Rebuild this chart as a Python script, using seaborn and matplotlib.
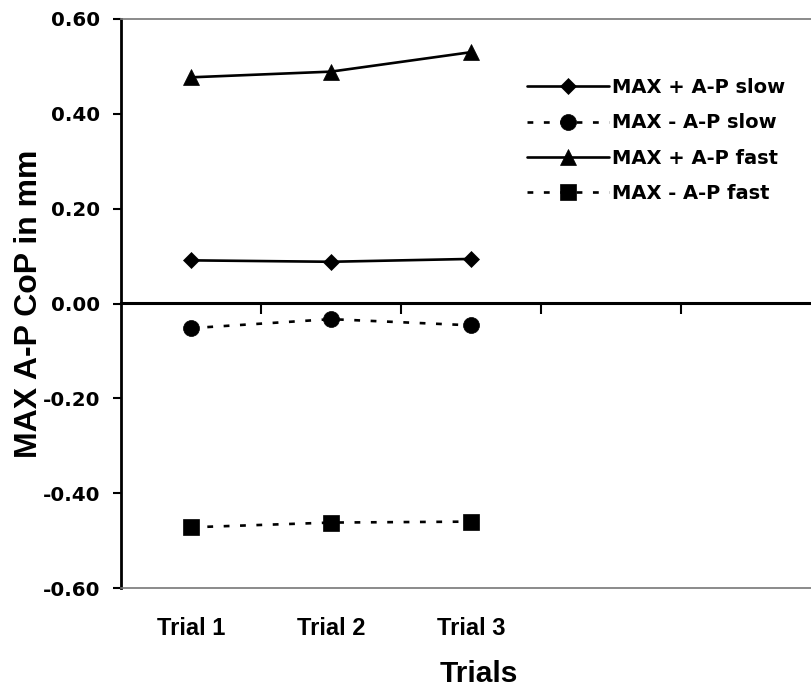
import numpy as np
import pandas as pd
import matplotlib
matplotlib.use("Agg")
import matplotlib.pyplot as plt
import seaborn as sns

# ---- data ----
trials = ["Trial 1", "Trial 2", "Trial 3"]
slow_pos = [0.091, 0.088, 0.094]
slow_neg = [-0.052, -0.033, -0.046]
fast_pos = [0.477, 0.489, 0.530]
fast_neg = [-0.472, -0.462, -0.460]
series_names = ["MAX + A-P slow", "MAX - A-P slow", "MAX + A-P fast", "MAX - A-P fast"]
y_ticks = [0.60, 0.40, 0.20, 0.00, -0.20, -0.40, -0.60]
y_tick_labels = ["0.60", "0.40", "0.20", "0.00", "-0.20", "-0.40", "-0.60"]
x_title = "Trials"
y_title = "MAX A-P CoP in mm"

sns.set_style("white")
plt.rcParams["font.family"] = ["DejaVu Sans"]
plt.rcParams["axes.unicode_minus"] = False
for k in ["text.color", "axes.labelcolor", "xtick.color", "ytick.color"]:
    plt.rcParams[k] = "black"

positions = np.arange(len(trials))
series_values = [slow_pos, slow_neg, fast_pos, fast_neg]
df = pd.DataFrame({
    "pos": np.tile(positions, len(series_names)),
    "trial": trials * len(series_names),
    "series": np.repeat(series_names, len(trials)),
    "value": np.concatenate(series_values),
})

dash = (0, (2.2, 4))
styles = {
    "MAX + A-P slow": dict(marker="D", markersize=8.3, linestyle="-"),
    "MAX - A-P slow": dict(marker="o", markersize=11.5, linestyle=dash),
    "MAX + A-P fast": dict(marker="^", markersize=11.5, linestyle="-"),
    "MAX - A-P fast": dict(marker="s", markersize=11.5, linestyle=dash),
}

W, H = 811, 687
fig = plt.figure(figsize=(W / 100, H / 100), dpi=100)
left, right, top, bottom = 121, 811, 19, 588
ax = fig.add_axes([left / W, 1 - bottom / H, (right - left) / W, (bottom - top) / H])

for name in series_names:
    sub = df[df["series"] == name]
    sns.lineplot(data=sub, x="pos", y="value", ax=ax, color="black",
                 linewidth=1.9, markeredgecolor="black", markeredgewidth=0.5,
                 label=name, **styles[name])

ax.set_xlim(-0.5, 4.43)
ax.set_ylim(-0.6, 0.6)

# y axis
ax.set_yticks(y_ticks, labels=y_tick_labels)
ax.tick_params(axis="y", direction="out", length=6, width=1.5, pad=9,
               labelsize=14.3, left=True, colors="black")
for lab in ax.get_yticklabels():
    lab.set_fontweight("bold")

# x axis: category labels below plot, no tick marks
ax.set_xticks(positions, labels=trials)
ax.tick_params(axis="x", length=0, pad=21, labelsize=17, colors="black")
for lab in ax.get_xticklabels():
    lab.set_fontweight("bold")
    lab.set_family(["Liberation Sans"])

ax.set_xlabel(x_title, fontsize=21.5, fontweight="bold",
              family=["Liberation Sans"], color="black")
ax.xaxis.set_label_coords((479 - left) / (right - left), -0.127)
ax.set_ylabel(y_title, fontsize=23, fontweight="bold", family=["Liberation Sans"],
              color="black")
ax.yaxis.set_label_coords(-0.112, 0.5)

# spines / borders
ax.spines["left"].set_linewidth(2.0)
ax.spines["left"].set_color("black")
ax.spines["right"].set_visible(False)
for s in ["top", "bottom"]:
    ax.spines[s].set_color("#777777")
    ax.spines[s].set_linewidth(1.2)
    ax.spines[s].set_linestyle((0, (1, 1)))

# category axis crossing at zero with boundary tick marks
sec = ax.secondary_xaxis(0.5)
sec.set_alignment("bottom")
sec.set_xticks(np.arange(len(trials) + 2) + 0.5)
sec.tick_params(axis="x", direction="out", length=8, width=1.5, labelbottom=False,
                labeltop=False, color="black")
sec.spines["bottom"].set_linewidth(2.2)
sec.spines["bottom"].set_color("black")
sec.spines["top"].set_visible(False)

# legend
handles, labels = ax.get_legend_handles_labels()
ax.legend(handles, labels, loc="upper left",
          bbox_to_anchor=(527 / W, 1 - 78 / H), bbox_transform=fig.transFigure,
          frameon=False, borderpad=0, borderaxespad=0, handlelength=4.2,
          handletextpad=0.15, labelspacing=0.84, numpoints=1,
          prop=dict(size=14, weight="bold"))

fig.savefig("out.png", dpi=100)
